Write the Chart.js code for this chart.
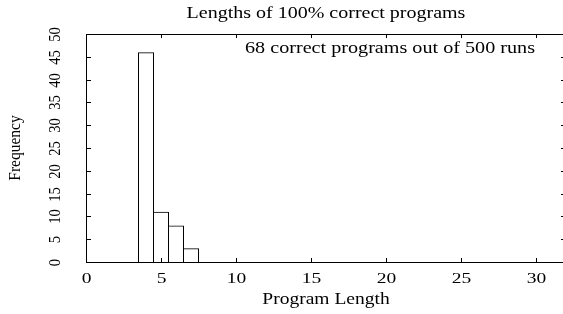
<!DOCTYPE html>
<html>
<head>
<meta charset="utf-8">
<script src="https://cdn.jsdelivr.net/npm/chart.js@4"></script>
<style>
  html, body { margin: 0; padding: 0; background: #fff; overflow: hidden; }
  #wrap { width: 570px; height: 314px; }
</style>
</head>
<body>
<div id="wrap"><canvas id="chart" width="570" height="314"></canvas></div>
<script>
// program lengths and how many correct programs had each length
const lengths = [4, 5, 6, 7];
const counts = [46, 11, 8, 3];

const titleText = "Lengths of 100% correct programs";
const noteText = "68 correct programs out of 500 runs";
const xTitle = "Program Length";
const yTitle = "Frequency";

const serif = "'Liberation Serif', 'Times New Roman', serif";

// the source picture is stretched sideways, so text is drawn wider than tall
function stretchedText(ctx, text, x, y, size, sx, align, rotated) {
  ctx.save();
  ctx.translate(x, y);
  ctx.scale(sx, 1);
  if (rotated) ctx.rotate(-Math.PI / 2);
  ctx.font = size + "px " + serif;
  ctx.textAlign = align;
  ctx.textBaseline = rotated ? "middle" : "alphabetic";
  ctx.fillText(text, 0, 0);
  ctx.restore();
}

// gnuplot style frame, inward ticks and all the texts
const gnuplotFrame = {
  id: "gnuplotFrame",
  afterDraw(chart) {
    const { ctx, chartArea: a, scales } = chart;
    const midX = (a.left + a.right) / 2;
    ctx.save();
    ctx.strokeStyle = "#000";
    ctx.fillStyle = "#000";
    ctx.lineWidth = 1;
    ctx.strokeRect(a.left + 0.5, a.top + 0.5, a.right - a.left, a.bottom - a.top);

    scales.x.ticks.forEach((t) => {
      const px = Math.round(scales.x.getPixelForValue(t.value)) + 0.5;
      ctx.beginPath();
      ctx.moveTo(px, a.bottom);
      ctx.lineTo(px, a.bottom - 4);
      ctx.moveTo(px, a.top);
      ctx.lineTo(px, a.top + 4);
      ctx.stroke();
      stretchedText(ctx, String(t.value), px, a.bottom + 20.5, 15, 1.3, "center", false);
    });

    scales.y.ticks.forEach((t) => {
      const py = Math.round(scales.y.getPixelForValue(t.value)) + 0.5;
      ctx.beginPath();
      ctx.moveTo(a.left, py);
      ctx.lineTo(a.left + 5, py);
      ctx.moveTo(a.right, py);
      ctx.lineTo(a.right - 5, py);
      ctx.stroke();
      stretchedText(ctx, String(t.value), 56, py, 14.5, 1.15, "center", true);
    });

    stretchedText(ctx, titleText, midX, 18, 16, 1.25, "center", false);
    stretchedText(ctx, noteText, 535, a.top + 18.5, 16, 1.26, "right", false);
    stretchedText(ctx, xTitle, midX, 303.5, 16, 1.22, "center", false);
    stretchedText(ctx, yTitle, 16, (a.top + a.bottom) / 2, 15.5, 1.1, "center", true);
    ctx.restore();
  },
};

new Chart(document.getElementById("chart"), {
  type: "bar",
  data: {
    datasets: [
      {
        data: lengths.map((x, i) => ({ x: x, y: counts[i] })),
        backgroundColor: "rgba(0,0,0,0)",
        borderColor: "#000",
        borderWidth: 1,
        inflateAmount: 0,
        // one pixel wider than a unit so neighbouring bars share an edge
        barPercentage: 16 / 15,
        categoryPercentage: 1,
      },
    ],
  },
  options: {
    responsive: false,
    animation: false,
    layout: { padding: { top: 34, right: 4 } },
    plugins: {
      legend: { display: false },
      tooltip: { enabled: false },
    },
    scales: {
      x: {
        type: "linear",
        offset: false,
        min: 0,
        max: 32,
        grid: { display: false, drawTicks: false },
        border: { display: false },
        ticks: { stepSize: 5, includeBounds: false, display: false },
        afterFit: (scale) => { scale.height = 52; },
      },
      y: {
        min: 0,
        max: 50,
        grid: { display: false, drawTicks: false },
        border: { display: false },
        ticks: { stepSize: 5, display: false },
        afterFit: (scale) => { scale.width = 86; },
      },
    },
  },
  plugins: [gnuplotFrame],
});
</script>
</body>
</html>
